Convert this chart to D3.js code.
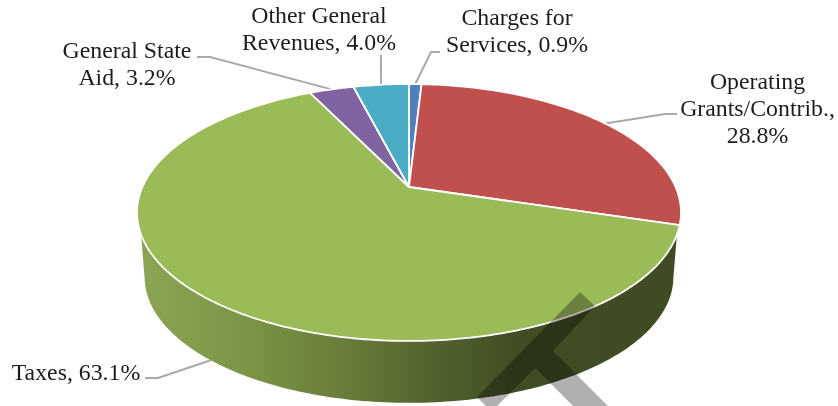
<!DOCTYPE html>
<html>
<head>
<meta charset="utf-8">
<script src="https://cdn.jsdelivr.net/npm/d3@7"></script>
<style>
  html, body { margin: 0; padding: 0; background: #fff; }
  svg { display: block; filter: blur(0.4px); }
  text { font-family: "Liberation Serif", serif; font-size: 23.8px; fill: #1c1c1c; text-anchor: middle; }
</style>
</head>
<body>
<svg width="838" height="406"></svg>
<script>
const categories = ['Charges for Services', 'Operating Grants/Contrib.', 'Taxes', 'General State Aid', 'Other General Revenues'];
const shares = [0.9, 28.8, 63.1, 3.2, 4.0];
const sliceColors = ['#4f81bd', '#c0504d', '#9bbb59', '#8064a2', '#4bacc6'];

const labelLines = [
  ['Charges for', 'Services, 0.9%'],
  ['Operating', 'Grants/Contrib.,', '28.8%'],
  ['Taxes, 63.1%'],
  ['General State', 'Aid, 3.2%'],
  ['Other General', 'Revenues, 4.0%']
];

// label anchor (centre x, first baseline) and leader elbows, same order as categories
const labelPos = [[517, 25], [757.5, 89], [76, 380], [127, 58], [319, 23]];
const leaderElbows = [
  [[440, 52], [431, 52]],
  [[677, 114], [665, 114]],
  [[145, 378], [158, 378]],
  [[197, 57], [210, 57]],
  [[381, 55], [381, 55]]
];

const svg = d3.select('svg');

// perspective of the tilted disc
const apex = { x: 409, y: 187 };
const persp = { a: 266.6, b: 123.4, k: 0.1984 };
const wallDrop = { y: 64.5, topCy: 212.5, sx: 0.972, sy: 0.98 };
const lineHeight = 27;

function project(angle) {
  const u = Math.sin(angle);
  const v = -Math.cos(angle);
  const d = 1 - persp.k * v;
  return [apex.x + persp.a * u / d, apex.y + persp.b * v / d];
}

function projectLower(angle) {
  const p = project(angle);
  return [
    apex.x + (p[0] - apex.x) * wallDrop.sx,
    wallDrop.topCy + wallDrop.y + (p[1] - wallDrop.topCy) * wallDrop.sy
  ];
}

const deg = Math.PI / 180;
const pie = d3.pie().sort(null).value(d => d)(shares);

function rim(a0, a1, fn) {
  const n = Math.max(2, Math.ceil(Math.abs(a1 - a0) / deg));
  return d3.range(n + 1).map(i => fn(a0 + (a1 - a0) * i / n));
}

const line = d3.line();

const defs = svg.append('defs');
const grad = defs.append('linearGradient')
  .attr('id', 'wall')
  .attr('gradientUnits', 'userSpaceOnUse')
  .attr('x1', 137).attr('x2', 681).attr('y1', 0).attr('y2', 0);
[[0, '#8ba654'], [0.2, '#7b9446'], [0.37, '#6a7f3b'], [0.52, '#55672f'], [0.7, '#404c23'], [1, '#3f4b22']]
  .forEach(s => grad.append('stop').attr('offset', s[0]).attr('stop-color', s[1]));

// leaders go under the pie
svg.append('g').selectAll('path')
  .data(pie)
  .enter().append('path')
  .attr('fill', 'none')
  .attr('stroke', '#a9a9a9')
  .attr('stroke-width', 2)
  .attr('d', (d, i) => {
    const mid = (d.startAngle + d.endAngle) / 2;
    const end = categories[i] === 'Taxes' ? projectLower(mid) : project(mid);
    return line(leaderElbows[i].concat([end]));
  });

// side wall, only the taxes slice shows here
const wallPts = rim(111 * deg, 249 * deg, project)
  .concat(rim(258 * deg, 101.6 * deg, projectLower));
svg.append('path')
  .attr('d', line(wallPts) + 'Z')
  .attr('fill', 'url(#wall)');

svg.append('g').selectAll('path')
  .data(pie)
  .enter().append('path')
  .attr('d', d => line([[apex.x, apex.y]].concat(rim(d.startAngle, d.endAngle, project))) + 'Z')
  .attr('fill', (d, i) => sliceColors[i])
  .attr('stroke', '#fff')
  .attr('stroke-width', 1.8)
  .attr('stroke-linejoin', 'round');

const labels = svg.append('g').selectAll('text')
  .data(labelLines)
  .enter().append('text');

labels.selectAll('tspan')
  .data((d, i) => d.map((t, j) => ({ t: t, x: labelPos[i][0], y: labelPos[i][1] + j * lineHeight })))
  .enter().append('tspan')
  .attr('x', d => d.x)
  .attr('y', d => d.y)
  .text(d => d.t);

// faint watermark stamped over the picture
svg.append('polygon')
  .attr('points', '580,292 595,306 553,351 608,406 573,406 535,368 497,406 486,406 477,397')
  .attr('fill', '#000')
  .attr('opacity', 0.31);
</script>
</body>
</html>
